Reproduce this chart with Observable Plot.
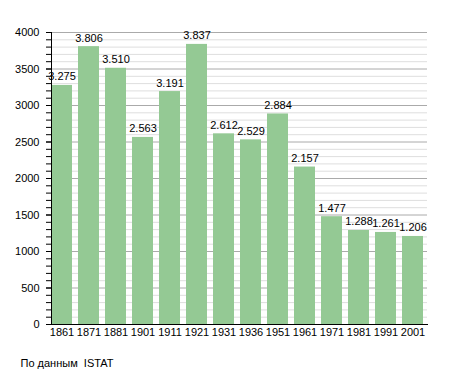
<!DOCTYPE html>
<html>
<head>
<meta charset="utf-8">
<script src="https://cdn.jsdelivr.net/npm/d3@7"></script>
<script src="https://cdn.jsdelivr.net/npm/@observablehq/plot@0.6"></script>
<style>
  html, body { margin: 0; padding: 0; background: #fff; }
  body { font-family: "Liberation Sans", Arial, sans-serif; }
  #chart svg { display: block; }
</style>
</head>
<body>
<div id="chart"></div>
<script>
const years = ["1861","1871","1881","1901","1911","1921","1931","1936","1951","1961","1971","1981","1991","2001"];
const population = [3275, 3806, 3510, 2563, 3191, 3837, 2612, 2529, 2884, 2157, 1477, 1288, 1261, 1206];
const yMajorTicks = [0, 500, 1000, 1500, 2000, 2500, 3000, 3500, 4000];
const yMinorTicks = d3.range(0, 4001, 100);
const captionText = "По данным  ISTAT";

const data = years.map((y, i) => ({year: y, value: population[i]}));
const fmt = d3.formatLocale({decimal: ",", thousands: ".", grouping: [3], currency: ["", ""]}).format(",");

const chart = Plot.plot({
  width: 455,
  height: 373,
  marginLeft: 51,
  marginRight: 28,
  marginTop: 32,
  marginBottom: 49,
  style: {fontFamily: "'Liberation Sans', Arial, sans-serif", fontSize: "11px", background: "#fff"},
  x: {domain: years, paddingInner: 0.22, paddingOuter: 0, align: 0, label: null},
  y: {domain: [0, 4000], label: null},
  marks: [
    Plot.ruleY(yMinorTicks.filter(d => d % 500 !== 0), {stroke: "#dedede", strokeWidth: 1}),
    Plot.ruleY(yMajorTicks.filter(d => d > 0), {stroke: "#aaaaaa", strokeWidth: 1}),
    Plot.barY(data, {x: "year", y: "value", fill: "#94c994"}),
    Plot.text(data, {x: "year", y: "value", text: d => fmt(d.value), lineAnchor: "bottom", dy: -5, fill: "#000", fontSize: 11}),
    Plot.axisY(yMinorTicks, {tickSize: 5, text: null, stroke: "#000"}),
    Plot.axisY(yMajorTicks, {tickSize: 5, tickPadding: 7, stroke: "#000", fill: "#000", fontSize: 11, tickFormat: d => String(d)}),
    Plot.axisX({tickSize: 0, tickPadding: 4, fill: "#000", fontSize: 11}),
    Plot.frame({anchor: "left", stroke: "#000"}),
    Plot.frame({anchor: "bottom", stroke: "#000"}),
    Plot.text([captionText], {frameAnchor: "bottom-left", dx: -31, dy: 42, textAnchor: "start", fill: "#000", fontSize: 11})
  ]
});
document.getElementById("chart").appendChild(chart);
</script>
</body>
</html>
